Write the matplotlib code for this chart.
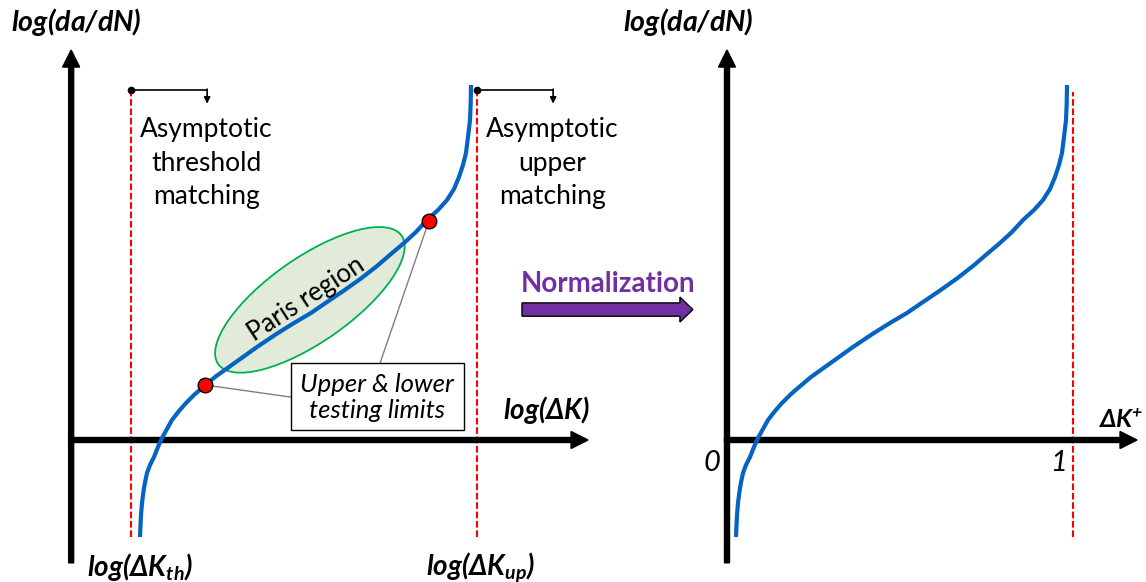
import matplotlib
matplotlib.use("Agg")
import matplotlib.pyplot as plt
from matplotlib.patches import Ellipse, Rectangle, FancyArrow

# ---------------- data (normalized units: dK_th = 0, dK_up = 1) ----------------
dk_plus = [0.0260, 0.0275, 0.0289, 0.0318, 0.0347, 0.0376, 0.0419, 0.0462, 0.0549, 0.0665,
           0.0780, 0.0896, 0.1040, 0.1185, 0.1387, 0.1590, 0.1821, 0.2052, 0.2428, 0.2832,
           0.3237, 0.3642, 0.3931, 0.4220, 0.4711, 0.5202, 0.5665, 0.6156, 0.6647, 0.7110,
           0.7514, 0.7890, 0.8237, 0.8555, 0.8873, 0.9133, 0.9335, 0.9480, 0.9595, 0.9682,
           0.9740, 0.9798, 0.9818, 0.9827]
log_dadn = [-0.2803, -0.2457, -0.2168, -0.1821, -0.1590, -0.1387, -0.1156, -0.0954, -0.0723, -0.0491,
            -0.0202, 0.0058, 0.0318, 0.0578, 0.0838, 0.1069, 0.1301, 0.1503, 0.1821, 0.2110,
            0.2399, 0.2688, 0.2882, 0.3075, 0.3382, 0.3671, 0.3988, 0.4321, 0.4668, 0.5029,
            0.5376, 0.5694, 0.6012, 0.6358, 0.6647, 0.6936, 0.7254, 0.7601, 0.7948, 0.8295,
            0.8757, 0.9249, 0.9740, 1.0260]
dk_limits = [0.0, 1.0]            # log(dK_th), log(dK_up)
test_dk = [0.214, 0.861]          # lower / upper testing limits
test_log = [0.159, 0.633]
paris_center = [0.517, 0.405]
paris_size = [0.647, 0.243]
paris_angle = 35
norm_ticks = [0, 1]
norm_tick_labels = ["0", "1"]

BLUE = "#0563C1"
PURPLE = "#7030A0"
FONT = ["Lato", "DejaVu Sans"]

plt.rcParams["font.family"] = FONT
plt.rcParams["mathtext.fontset"] = "custom"
plt.rcParams["mathtext.rm"] = "Lato:italic:bold"
plt.rcParams["mathtext.it"] = "Lato:italic:bold"
plt.rcParams["mathtext.bf"] = "Lato:italic:bold"

W, H = 1146, 582
U = 346.0  # pixels per unit
fig = plt.figure(figsize=(W / 100, H / 100), dpi=100)
ylim = ((440 - H) / U, 440 / U)

axL = fig.add_axes([0, 0, 600 / W, 1])
axL.set_xlim(-131 / U, 469 / U)
axR = fig.add_axes([600 / W, 0, 546 / W, 1])
axR.set_xlim(-127 / U, 419 / U)
for ax in (axL, axR):
    ax.set_ylim(*ylim)
    ax.set_autoscale_on(False)
    ax.axis("off")
    ax.patch.set_visible(False)

y_bot, y_tip = -0.355, 1.127
lw_ax = 5 / U
hw, hl = 17 / U, 17 / U
red_bot, red_top = -0.280, 1.012


def draw_axes(ax, x0, x_tip):
    ax.arrow(x0, y_bot, 0, y_tip - y_bot, width=lw_ax, head_width=hw, head_length=hl,
             length_includes_head=True, color="black", zorder=3)
    ax.arrow(x0 - lw_ax / 2, 0, x_tip - x0 + lw_ax / 2, 0, width=lw_ax, head_width=hw,
             head_length=hl, length_includes_head=True, color="black", zorder=3)


# ---------------- left panel ----------------
draw_axes(axL, -0.173, 1.321)
for xv in dk_limits:
    axL.plot([xv, xv], [red_bot, red_top], color="red", lw=1.5, ls=(0, (3.2, 1.3)), zorder=2)

axL.add_patch(Ellipse(paris_center, paris_size[0], paris_size[1], angle=paris_angle,
                      facecolor="#E2EBDA", edgecolor="#00B050", lw=1.3, zorder=2))
axL.plot(dk_plus, log_dadn, color=BLUE, lw=3, solid_capstyle="butt",
         solid_joinstyle="round", zorder=4)

# leader lines and box
box_x, box_y, box_w, box_h = 0.462, 0.029, 0.500, 0.194
axL.plot([test_dk[0], box_x], [test_log[0], 0.124], color="#7F7F7F", lw=1, zorder=3)
axL.plot([test_dk[1], 0.720], [test_log[1], box_y + box_h], color="#7F7F7F", lw=1, zorder=3)
axL.add_patch(Rectangle((box_x, box_y), box_w, box_h, facecolor="white", edgecolor="black",
                        lw=1, zorder=5))
axL.text(box_x + box_w / 2, box_y + box_h / 2 - 0.004, "Upper & lower\ntesting limits",
         ha="center", va="center", fontsize=18.5, style="italic", linespacing=1.15, zorder=6)
axL.plot(test_dk, test_log, "o", ms=10.5, mfc="red", mec="black", mew=1, zorder=6)

axL.text(paris_center[0] - 0.012, paris_center[1] + 0.002, "Paris region", rotation=33,
         rotation_mode="anchor", ha="center", va="center", fontsize=18.5, zorder=5)

# top bracket arrows
for xv in dk_limits:
    axL.plot([xv, xv + 0.22], [red_top, red_top], color="black", lw=1.2, zorder=3)
    axL.plot([xv], [red_top], "o", color="black", ms=4.5, zorder=3)
    axL.annotate("", xy=(xv + 0.22, 0.972), xytext=(xv + 0.22, red_top + 0.002),
                 arrowprops=dict(arrowstyle="-|>", color="black", lw=1.2,
                                 mutation_scale=9, shrinkA=0, shrinkB=0), zorder=3)

axL.text(0.217, 0.800, "Asymptotic\nthreshold\nmatching", ha="center", va="center",
         fontsize=19, linespacing=1.42)
axL.text(1.217, 0.800, "Asymptotic\nupper\nmatching", ha="center", va="center",
         fontsize=19, linespacing=1.42)

axL.text(-0.159, 1.208, r"$\mathrm{log(da/dN)}$", ha="center", va="center", fontsize=20.5)
axL.text(1.202, 0.087, r"$\mathrm{log(\Delta K)}$", ha="center", va="center", fontsize=20)
axL.text(0.026, -0.367, r"$\mathrm{log(\Delta K_{th})}$", ha="center", va="center", fontsize=20)
axL.text(1.009, -0.367, r"$\mathrm{log(\Delta K_{up})}$", ha="center", va="center", fontsize=20)

# Normalization arrow
axL.add_patch(FancyArrow(1.130, 0.377, 0.494, 0, width=13.3 / U, head_width=25 / U,
                         head_length=13 / U, length_includes_head=True,
                         facecolor=PURPLE, edgecolor="black", lw=1, clip_on=False, zorder=5))
axL.text(1.379, 0.451, "Normalization", ha="center", va="center", fontsize=20,
         fontweight="bold", color=PURPLE, clip_on=False)

# ---------------- right panel ----------------
draw_axes(axR, 0.0, 1.185)
axR.plot([1, 1], [red_bot, 1.006], color="red", lw=1.5, ls=(0, (3.2, 1.3)), zorder=2)
axR.plot(dk_plus, log_dadn, color=BLUE, lw=3, solid_capstyle="butt",
         solid_joinstyle="round", zorder=4)

axR.text(-0.113, 1.208, r"$\mathrm{log(da/dN)}$", ha="center", va="center", fontsize=20.5)
axR.text(1.072, 0.058, r"$\mathrm{\Delta K^{+}}$", ha="left", va="center", fontsize=18)
for t, lab in zip(norm_ticks, norm_tick_labels):
    axR.text(t - 0.043, -0.066, lab, ha="center", va="center", fontsize=21, style="italic")

fig.savefig("out.png", dpi=100)
